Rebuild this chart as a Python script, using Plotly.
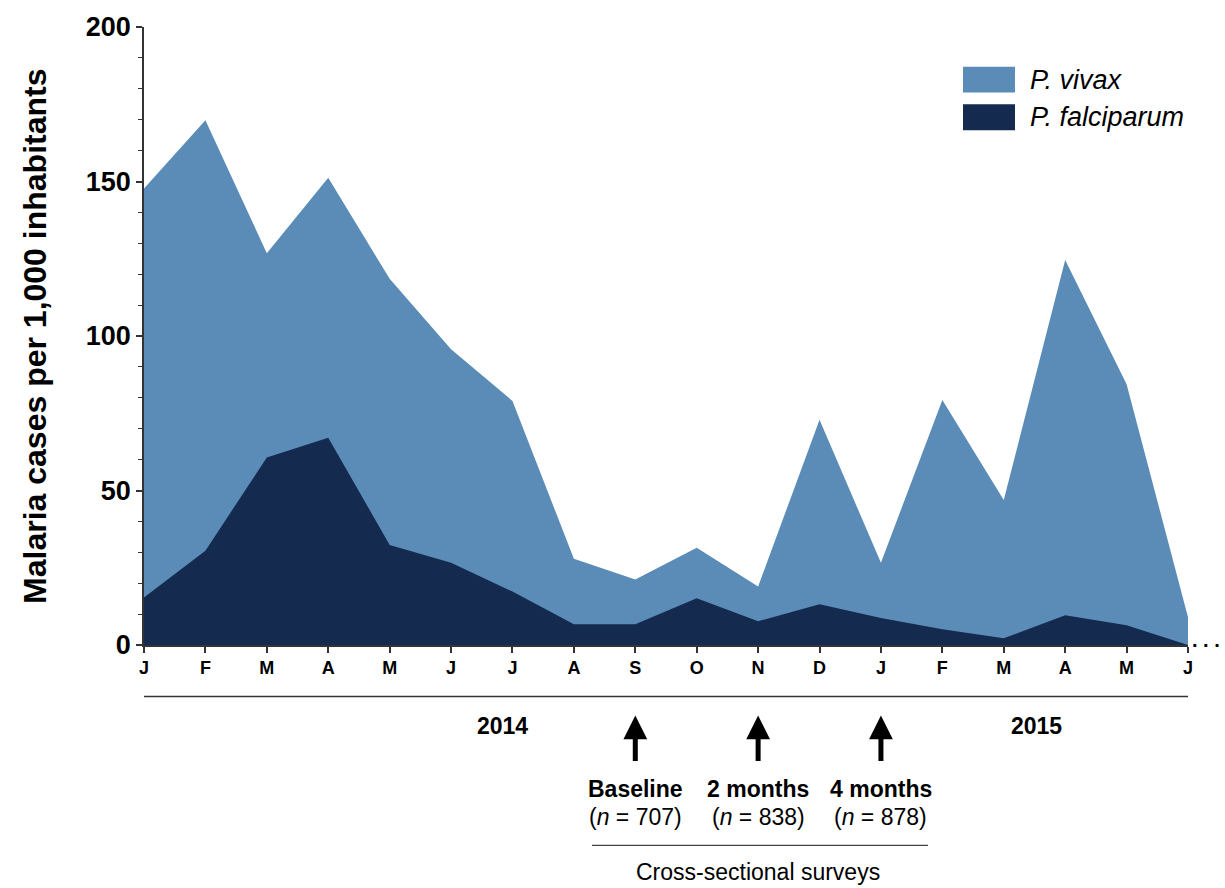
import plotly.graph_objects as go

months = ["J", "F", "M", "A", "M", "J", "J", "A", "S", "O", "N", "D",
          "J", "F", "M", "A", "M", "J"]
# top edge (all cases) and P. falciparum, per 1,000 inhabitants
total_cases = [147.7, 169.8, 126.8, 151.2, 118.5, 95.7, 79.0, 27.9, 21.2, 31.5,
               18.9, 72.9, 26.6, 79.3, 46.9, 124.6, 84.4, 9.0]
falciparum_cases = [15.4, 30.5, 60.7, 67.1, 32.4, 26.6, 17.3, 6.7, 6.7, 15.1,
                    7.7, 13.2, 8.7, 5.1, 2.2, 9.6, 6.4, 0.0]
years = ["2014", "2015"]
survey_months = [8, 10, 12]
survey_names = ["Baseline", "2 months", "4 months"]
survey_n = [707, 838, 878]

VIVAX = "#5a8cb7"
FALC = "#142a4e"
FONT = "Liberation Sans"

x = list(range(len(months)))

fig = go.Figure()
fig.add_trace(go.Scatter(x=x, y=total_cases, mode="lines", line=dict(width=0, color=VIVAX),
                         fill="tozeroy", fillcolor=VIVAX, name="P. vivax", showlegend=False))
fig.add_trace(go.Scatter(x=x, y=falciparum_cases, mode="lines", line=dict(width=0, color=FALC),
                         fill="tozeroy", fillcolor=FALC, name="P. falciparum", showlegend=False))

fig.update_layout(
    width=1225, height=888,
    margin=dict(l=144, r=37, t=22, b=243),
    plot_bgcolor="white", paper_bgcolor="white",
    font=dict(family=FONT, color="black"),
)
fig.update_xaxes(range=[0, 17], tickvals=x, ticktext=months, showgrid=False, zeroline=False,
                 showline=True, linecolor="#333", linewidth=1.5, ticks="outside", ticklen=6,
                 tickcolor="#333", tickwidth=1.5,
                 tickfont=dict(family=FONT, size=18, color="black", weight="bold"))
fig.update_yaxes(range=[0, 200], tickvals=[0, 50, 100, 150, 200], showgrid=False, zeroline=False,
                 showline=True, linecolor="#333", linewidth=1.5, ticks="outside", ticklen=6,
                 tickcolor="#333", tickwidth=1.5,
                 tickfont=dict(family=FONT, size=27, color="black", weight="bold"),
                 minor=dict(tickvals=[v for v in range(10, 200, 10) if v % 50], ticks="outside",
                            ticklen=4, tickcolor="#333", tickwidth=1.2))

# y title
fig.add_annotation(xref="paper", yref="paper", x=-0.1045, y=0.5, text="<b>Malaria cases per 1,000 inhabitants</b>",
                   textangle=-90, showarrow=False, font=dict(family=FONT, size=32, color="black"),
                   xanchor="center", yanchor="middle")

# Legend (manual)
for i, (name, col) in enumerate([("P. vivax", VIVAX), ("P. falciparum", FALC)]):
    y0 = 1 - (62 - 22 + i * 38) / 623
    y1 = 1 - (88 - 22 + i * 38) / 623
    fig.add_shape(type="rect", xref="paper", yref="paper", x0=(963 - 144) / 1044, x1=(1015 - 144) / 1044,
                  y0=y1, y1=y0, fillcolor=col, line=dict(width=0))
    fig.add_annotation(xref="paper", yref="paper", x=(1028 - 144) / 1044, y=(y0 + y1) / 2,
                       text="<i>" + name + "</i>", showarrow=False, xanchor="left", yanchor="middle",
                       font=dict(family=FONT, size=27, color="black"))

# trailing dots
fig.add_annotation(xref="x", yref="y", x=17, y=0, text="<b>. . .</b>", showarrow=False,
                   xanchor="left", yanchor="middle", xshift=2, yshift=5,
                   font=dict(family=FONT, size=20, color="black"))

def py(px):
    return (645 - px) / 623

# year line
fig.add_shape(type="line", xref="x", yref="paper", x0=0, x1=17, y0=py(697), y1=py(697),
              line=dict(color="#333", width=1.5))
fig.add_annotation(xref="x", yref="paper", x=6, y=py(727), text="<b>" + years[0] + "</b>", showarrow=False,
                   xanchor="center", yanchor="middle", xshift=-10, font=dict(family=FONT, size=23, color="black"))
fig.add_annotation(xref="x", yref="paper", x=14.5, y=py(727), text="<b>" + years[1] + "</b>", showarrow=False,
                   xanchor="center", yanchor="middle", xshift=2, font=dict(family=FONT, size=23, color="black"))

# survey arrows & labels
for m, name, n in zip(survey_months, survey_names, survey_n):
    fig.add_annotation(xref="x", yref="paper", x=m, y=py(716), text="", showarrow=True,
                       axref="pixel", ayref="pixel", ax=0, ay=47, arrowhead=2, arrowsize=0.95,
                       arrowwidth=5, arrowcolor="black")
    fig.add_annotation(xref="x", yref="paper", x=m, y=py(790), text="<b>" + name + "</b>", showarrow=False,
                       xanchor="center", yanchor="middle", font=dict(family=FONT, size=23, color="black"))
    fig.add_annotation(xref="x", yref="paper", x=m, y=py(818), text="(<i>n</i> = %d)" % n, showarrow=False,
                       xanchor="center", yanchor="middle", font=dict(family=FONT, size=23, color="black"))

fig.add_shape(type="line", xref="paper", yref="paper", x0=(592 - 144) / 1044, x1=(928 - 144) / 1044,
              y0=py(847), y1=py(847), line=dict(color="#444", width=1.2))
fig.add_annotation(xref="paper", yref="paper", x=(758 - 144) / 1044, y=py(874), text="Cross-sectional surveys",
                   showarrow=False, xanchor="center", yanchor="middle", font=dict(family=FONT, size=23, color="black"))

fig.write_html("out.html")
